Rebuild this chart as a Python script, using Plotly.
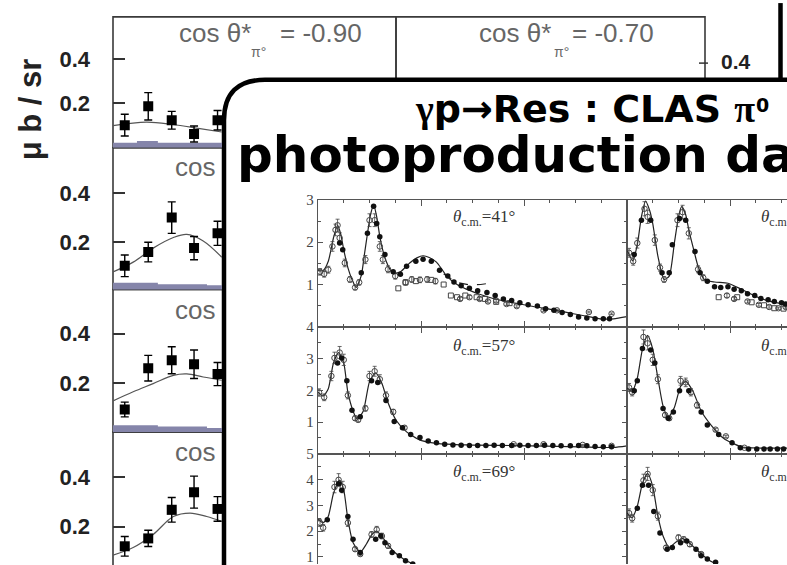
import plotly.graph_objects as go

W, H = 787, 565

# ---------------- left figure: dσ/dΩ (μb/sr) in four cos θ* rows ----------------
BG_X = [0.5, 1.5, 2.5, 3.45, 4.45]
BG_VALS = [
    [0.102, 0.187, 0.124, 0.062, 0.124],
    [0.104, 0.160, 0.300, 0.176, 0.236],
    [0.092, 0.260, 0.292, 0.276, 0.236],
    [0.120, 0.152, 0.268, 0.340, 0.272],
]
BG_ERRS = [
    [0.049, 0.062, 0.040, 0.036, 0.044],
    [0.044, 0.040, 0.064, 0.047, 0.049],
    [0.030, 0.052, 0.055, 0.058, 0.047],
    [0.040, 0.033, 0.050, 0.065, 0.050],
]
BG_FIT_X = [
    [0, 1.43, 2.55, 3.70, 4.63],
    [0, 0.86, 1.71, 2.57, 3.14, 3.84, 4.63],
    [0, 0.86, 1.71, 2.57, 3.14, 3.84, 4.63],
    [0, 0.86, 1.71, 2.57, 3.28, 3.99, 4.63],
]
BG_FIT_Y = [
    [0.100, 0.116, 0.105, 0.086, 0.071],
    [0.079, 0.119, 0.176, 0.219, 0.232, 0.205, 0.139],
    [0.127, 0.164, 0.197, 0.231, 0.237, 0.224, 0.211],
    [0.084, 0.115, 0.168, 0.241, 0.255, 0.241, 0.221],
]
# systematic-error band (step edges and heights)
BAND_EDGES = [[0, 1.02, 1.91, 4.7], [0, 1.91, 4.0, 4.7], [0, 1.91, 4.0, 4.7]]
BAND_H = [[0.022, 0.031, 0.022], [0.035, 0.029, 0.025], [0.028, 0.023, 0.017]]
BG_TICKS = [0.2, 0.4]
COS_LABELS = ["-0.90", "-0.70"]

# ---------------- inset: CLAS π0 photoproduction, three angles per column ----------------
P41 = dict(
    mx=[0.00, 0.05, 0.10, 0.15, 0.19, 0.22, 0.25, 0.29, 0.33, 0.37, 0.42, 0.45, 0.48, 0.51, 0.54, 0.57,
        0.60, 0.63, 0.66, 0.70, 0.73, 0.80, 0.89, 0.96, 1.02, 1.08, 1.15, 1.20, 1.25, 1.35, 1.44, 1.57,
        1.70, 1.83, 1.96, 2.09, 2.22, 2.35, 2.48, 2.61, 2.74, 2.87, 3.00],
    my=[1.33, 1.33, 1.55, 2.10, 2.40, 2.20, 1.82, 1.40, 1.12, 0.93, 1.21, 1.70, 2.20, 2.65, 2.89, 2.60,
        2.14, 1.80, 1.56, 1.35, 1.26, 1.30, 1.51, 1.63, 1.68, 1.64, 1.53, 1.37, 1.20, 1.00, 0.89, 0.77,
        0.67, 0.60, 0.54, 0.48, 0.43, 0.37, 0.31, 0.25, 0.19, 0.19, 0.24],
    fx=[0.21, 0.24, 0.42, 0.48, 0.54, 0.57, 0.60, 0.65, 0.73, 0.80, 0.86, 0.95, 1.02, 1.10, 1.18, 1.26,
        1.32, 1.39, 1.47, 1.55, 1.64, 1.72, 1.80, 1.88, 1.96, 2.04, 2.13, 2.21, 2.29, 2.37, 2.45, 2.53,
        2.61, 2.69, 2.77, 2.83],
    fy=[1.98, 1.82, 1.28, 2.21, 2.85, 2.44, 2.13, 1.71, 1.30, 1.24, 1.43, 1.55, 1.60, 1.55, 1.34, 1.20,
        1.06, 0.97, 0.91, 0.85, 0.81, 0.74, 0.66, 0.62, 0.57, 0.52, 0.49, 0.43, 0.39, 0.34, 0.29, 0.23,
        0.21, 0.19, 0.19, 0.19],
    ox=[0.02, 0.06, 0.10, 0.14, 0.17, 0.19, 0.21, 0.26, 0.31, 0.36, 0.40, 0.46, 0.50, 0.55, 0.60, 0.63,
        0.68, 0.75, 0.85, 0.91, 0.99, 1.06, 1.14, 1.38, 1.47, 1.57, 1.65, 1.73, 1.83, 1.93, 2.19, 2.32,
        2.63, 2.85],
    oy=[1.30, 1.25, 1.35, 1.90, 2.29, 2.40, 2.10, 1.51, 1.12, 0.93, 1.05, 1.59, 2.52, 2.52, 1.90, 1.59,
        1.36, 1.20, 1.05, 1.12, 1.11, 1.12, 1.08, 0.66, 0.70, 0.66, 0.60, 0.62, 0.54, 0.49, 0.39, 0.39,
        0.35, 0.31],
    sx=[0.78, 0.85, 0.95, 1.10, 1.22, 1.29, 1.35, 1.43, 1.54, 1.62, 1.73, 1.86],
    sy=[0.91, 1.05, 1.08, 1.11, 1.00, 0.74, 0.70, 0.74, 0.70, 0.66, 0.59, 0.56],
    dx=[1.22, 1.35, 1.47, 1.58, 1.70],
    dy=[1.25, 1.05, 0.99, 1.00, 1.04],
)
P45 = dict(
    mx=[0.00, 0.056, 0.10, 0.14, 0.18, 0.22, 0.25, 0.30, 0.36, 0.41, 0.46, 0.50, 0.53, 0.57, 0.60, 0.65,
        0.69, 0.75, 0.85, 0.98, 1.11, 1.27, 1.43, 1.56],
    my=[1.82, 1.56, 1.94, 2.60, 2.97, 2.75, 2.44, 1.67, 1.12, 1.20, 1.98, 2.60, 2.84, 2.65, 2.29, 1.80,
        1.43, 1.12, 1.06, 1.03, 0.89, 0.70, 0.58, 0.54],
    fx=[0.07, 0.14, 0.23, 0.34, 0.41, 0.44, 0.51, 0.57, 0.66, 0.71, 0.78, 0.85, 0.91, 0.98, 1.04, 1.11,
        1.17, 1.24, 1.30, 1.37, 1.43, 1.50, 1.54],
    fy=[1.71, 2.52, 2.52, 1.28, 1.28, 1.94, 2.56, 2.52, 1.78, 1.28, 1.08, 0.95, 0.93, 0.95, 0.89, 0.85,
        0.78, 0.74, 0.67, 0.64, 0.60, 0.57, 0.54],
    ox=[0.02, 0.06, 0.10, 0.17, 0.20, 0.27, 0.32, 0.36, 0.49, 0.54, 0.60, 0.69, 0.74, 0.97, 1.04, 1.17,
        1.28, 1.38, 1.47, 1.54],
    oy=[1.75, 1.55, 1.98, 2.79, 2.60, 2.05, 1.40, 1.12, 2.52, 2.71, 2.21, 1.36, 1.16, 0.74, 0.66, 0.60,
        0.52, 0.47, 0.44, 0.47],
    sx=[0.89, 1.07, 1.21, 1.33, 1.43, 1.52],
    sy=[0.70, 0.70, 0.58, 0.51, 0.44, 0.43],
)
P57 = dict(
    mx=[0.00, 0.05, 0.10, 0.15, 0.20, 0.25, 0.29, 0.34, 0.38, 0.44, 0.50, 0.56, 0.62, 0.68, 0.76, 0.86,
        0.99, 1.15, 1.44, 1.90, 2.54, 2.87, 3.00],
    my=[1.94, 1.82, 2.05, 2.86, 3.19, 2.86, 1.94, 1.35, 1.09, 1.35, 2.27, 2.55, 2.22, 1.61, 1.05, 0.69,
        0.43, 0.33, 0.28, 0.26, 0.22, 0.20, 0.25],
    fx=[0.19, 0.23, 0.28, 0.33, 0.41, 0.52, 0.58, 0.66, 0.74, 0.82, 0.90, 0.99, 1.07, 1.15, 1.23, 1.31,
        1.39, 1.47, 1.55, 1.63, 1.71, 1.79, 1.88, 1.96, 2.04, 2.12, 2.20, 2.28, 2.36, 2.45, 2.53, 2.61,
        2.69, 2.77, 2.85],
    fy=[2.86, 3.02, 2.30, 1.37, 1.17, 2.30, 2.25, 1.68, 1.02, 0.82, 0.61, 0.51, 0.40, 0.35, 0.30, 0.28,
        0.27, 0.26, 0.26, 0.26, 0.27, 0.26, 0.26, 0.27, 0.26, 0.26, 0.27, 0.26, 0.25, 0.25, 0.26, 0.25,
        0.23, 0.22, 0.22],
    ox=[0.01, 0.06, 0.13, 0.16, 0.21, 0.25, 0.29, 0.36, 0.39, 0.46, 0.50, 0.55, 0.60, 0.66, 0.73, 0.84,
        1.90, 2.19, 2.57, 2.85],
    oy=[1.93, 1.78, 2.45, 3.02, 3.19, 2.96, 1.84, 1.12, 1.07, 1.43, 2.45, 2.60, 2.35, 1.84, 1.32, 0.82,
        0.30, 0.30, 0.28, 0.25],
)
P61 = dict(
    mx=[0.00, 0.05, 0.10, 0.15, 0.20, 0.25, 0.30, 0.35, 0.40, 0.46, 0.52, 0.57, 0.64, 0.72, 0.82, 0.94,
        1.11, 1.30, 1.56],
    my=[2.07, 1.97, 2.38, 3.30, 3.73, 3.30, 2.38, 1.51, 1.15, 1.46, 2.12, 2.28, 1.97, 1.35, 0.89, 0.48,
        0.22, 0.18, 0.18],
    fx=[0.07, 0.10, 0.15, 0.23, 0.27, 0.35, 0.40, 0.45, 0.51, 0.60, 0.72, 0.78, 0.89, 1.02, 1.10, 1.18,
        1.26, 1.33, 1.39, 1.46, 1.52],
    fy=[1.99, 2.30, 3.32, 3.27, 2.86, 1.43, 1.12, 1.32, 1.99, 1.99, 1.32, 0.91, 0.61, 0.35, 0.19, 0.15,
        0.15, 0.15, 0.15, 0.15, 0.15],
    ox=[0.02, 0.05, 0.16, 0.20, 0.25, 0.30, 0.37, 0.41, 0.52, 0.57, 0.62, 0.68, 0.86, 0.96, 1.14],
    oy=[2.09, 1.94, 3.68, 3.48, 2.96, 2.35, 1.22, 1.12, 2.30, 2.25, 1.94, 1.53, 0.76, 0.55, 0.19],
)
P69 = dict(
    mx=[0.00, 0.05, 0.10, 0.15, 0.21, 0.25, 0.29, 0.34, 0.41, 0.47, 0.52, 0.57, 0.63, 0.73, 0.83, 0.92,
        1.00, 1.20],
    my=[2.46, 2.33, 2.58, 3.46, 3.98, 3.60, 2.46, 1.56, 1.18, 1.50, 1.85, 2.00, 1.74, 1.23, 0.92, 0.73,
        0.60, 0.40],
    fx=[0.09, 0.20, 0.23, 0.29, 0.34, 0.41, 0.56, 0.61, 0.65, 0.72, 0.79, 0.85, 0.92, 1.00],
    fy=[2.44, 3.84, 3.59, 2.57, 1.68, 1.17, 1.68, 1.81, 1.55, 1.17, 1.04, 0.85, 0.72, 0.62],
    ox=[0.02, 0.05, 0.16, 0.20, 0.24, 0.29, 0.36, 0.41, 0.52, 0.57, 0.62, 0.68],
    oy=[2.32, 2.13, 3.71, 3.99, 3.71, 2.32, 1.30, 1.11, 1.87, 2.06, 1.81, 1.43],
)
P73 = dict(
    mx=[0.00, 0.05, 0.10, 0.15, 0.20, 0.25, 0.30, 0.35, 0.41, 0.47, 0.54, 0.60, 0.69, 0.78, 0.86, 0.95],
    my=[2.71, 2.52, 2.97, 3.85, 4.24, 3.73, 2.58, 1.81, 1.37, 1.56, 1.71, 1.56, 1.23, 0.92, 0.73, 0.55],
    fx=[0.10, 0.15, 0.21, 0.26, 0.32, 0.39, 0.44, 0.52, 0.58, 0.67, 0.72, 0.78, 0.86],
    fy=[2.89, 3.78, 3.78, 2.76, 1.93, 1.30, 1.36, 1.55, 1.62, 1.30, 1.04, 0.92, 0.79],
    ox=[0.02, 0.05, 0.16, 0.20, 0.25, 0.30, 0.38, 0.50, 0.55, 0.61, 0.72],
    oy=[2.70, 2.50, 3.97, 4.22, 3.59, 2.58, 1.36, 1.75, 1.68, 1.49, 1.11],
)
INSET_PANELS = [P41, P45, P57, P61, P69, P73]
INSET_ANGLES = ["41°", "45°", "57°", "61°", "69°", "73°"]
INSET_YTICKS = [[1, 2, 3], [1, 2, 3, 4], [1, 2, 3, 4, 5]]


def fx(x):
    return x / W


def fy(y):
    return 1 - y / H


fig = go.Figure()
layout = dict(
    width=W, height=H, margin=dict(l=0, r=0, t=0, b=0), autosize=False,
    paper_bgcolor="white", plot_bgcolor="rgba(0,0,0,0)", showlegend=False,
)

# ---------- left figure axes and traces ----------
bg_rows = [(9, 142, [0, 0.591]), (142, 286, [0.008, 0.584]),
           (286, 431, [0, 0.58]), (431, 565, [0.048, 0.584])]
for i, (top, bot, yr) in enumerate(bg_rows):
    n = i + 1
    layout[f"xaxis{n}"] = dict(domain=[fx(113), fx(222)], range=[0, 4.64], visible=False,
                               anchor=f"y{n}")
    layout[f"yaxis{n}"] = dict(
        domain=[fy(bot), fy(top)], range=yr, anchor=f"x{n}",
        showline=False, showgrid=False, zeroline=False,
        tickmode="array", tickvals=BG_TICKS, ticktext=[f"<b>{v:.1f}</b>" for v in BG_TICKS],
        ticks="inside", ticklen=12, tickwidth=1.5, tickcolor="#333",
        tickfont=dict(family="Liberation Sans", size=22, color="#222"), ticklabelstandoff=22,
        ticklabeloverflow="allow",
    )
    ax = dict(xaxis=f"x{n}", yaxis=f"y{n}")
    if i < len(BAND_H):
        fig.add_trace(go.Scatter(x=BAND_EDGES[i], y=BAND_H[i] + [BAND_H[i][-1]], mode="lines",
                                 line=dict(shape="hv", width=0, color="#8585aa"),
                                 fill="tozeroy", fillcolor="#8585aa", **ax))
    fig.add_trace(go.Scatter(x=BG_FIT_X[i], y=BG_FIT_Y[i], mode="lines",
                             line=dict(color="#555", width=1.2, shape="spline"), **ax))
    fig.add_trace(go.Scatter(
        x=BG_X, y=BG_VALS[i], mode="markers",
        marker=dict(symbol="square", size=10, color="black"),
        error_y=dict(type="data", array=BG_ERRS[i], color="black", thickness=1.4, width=4),
        **ax))

# ---------- inset axes and traces ----------
cols = [(318, 627, [0, 3.0]), (627, 787, [0, 160 / 103])]
rows = [(195, 324, [0, 3]), (324, 453, [0, 4]), (453, 565, [0.725, 5])]
axc = "#555"
for r, (top, bot, yr) in enumerate(rows):
    for c, (left, right, xr) in enumerate(cols):
        k = r * 2 + c
        n = 5 + k
        layout[f"xaxis{n}"] = dict(
            domain=[fx(left), fx(right)], range=xr, anchor=f"y{n}",
            side="top" if r == 2 else "bottom", mirror=False if r == 2 else "ticks",
            showline=True, linecolor=axc, linewidth=1.3, showgrid=False, zeroline=False,
            ticks="inside", ticklen=6, tickcolor=axc, tick0=0, dtick=1, showticklabels=False,
            minor=dict(dtick=0.25, tick0=0, ticks="inside", ticklen=3, tickcolor=axc, showgrid=False),
        )
        ycfg = dict(domain=[fy(bot), fy(top)], range=yr, anchor=f"x{n}",
                    showline=True, linecolor=axc, linewidth=1.3, showgrid=False, zeroline=False)
        if c == 0:
            ycfg.update(mirror="ticks", ticks="inside", ticklen=5, tickcolor=axc,
                        tickmode="array", tickvals=INSET_YTICKS[r],
                        ticktext=[str(v) for v in INSET_YTICKS[r]], ticklabeloverflow="allow",
                        tickfont=dict(family="Liberation Serif", size=15, color="#444"),
                        minor=dict(tickvals=[v - 0.5 for v in INSET_YTICKS[r]], ticks="inside",
                                   ticklen=3, tickcolor=axc))
        else:
            ycfg.update(ticks="", showticklabels=False)
        layout[f"yaxis{n}"] = ycfg

        p = INSET_PANELS[k]
        ax = dict(xaxis=f"x{n}", yaxis=f"y{n}")
        fig.add_trace(go.Scatter(x=p["mx"], y=p["my"], mode="lines",
                                 line=dict(color="#222", width=1.2, shape="spline", smoothing=0.6), **ax))
        if "dx" in p:
            fig.add_trace(go.Scatter(x=p["dx"], y=p["dy"], mode="lines",
                                     line=dict(color="#222", width=1.1, dash="dash"), **ax))
        fig.add_trace(go.Scatter(
            x=p["ox"], y=p["oy"], mode="markers",
            marker=dict(symbol="circle-open", size=5.5, color="#444", line=dict(width=1)),
            error_y=dict(type="percent", value=6, color="#444", thickness=0.8, width=2), **ax))
        if "sx" in p:
            fig.add_trace(go.Scatter(x=p["sx"], y=p["sy"], mode="markers",
                                     marker=dict(symbol="square-open", size=5, color="#444",
                                                 line=dict(width=1)), **ax))
        fig.add_trace(go.Scatter(x=p["fx"], y=p["fy"], mode="markers",
                                 marker=dict(symbol="circle", size=5.5, color="#111"), **ax))

# ---------- frames, white slide box (drawn beneath the plotting layers) ----------
shapes = []
frame = dict(type="rect", xref="paper", yref="paper", layer="below",
             line=dict(color="#3a3a3a", width=1.6), fillcolor="rgba(0,0,0,0)")
for (x0, y0, x1, y1) in [(113, 9, 396, 142), (396, 9, 705, 142), (113, 142, 396, 286),
                         (113, 286, 396, 431), (113, 431, 396, 600)]:
    shapes.append(dict(frame, x0=fx(x0), y0=fy(y1), x1=fx(x1), y1=fy(y0)))
box_path = (f"M {fx(224)},{fy(620)} L {fx(224)},{fy(114)} "
            f"Q {fx(224)},{fy(73)} {fx(265)},{fy(73)} "
            f"L {fx(820)},{fy(73)} L {fx(820)},{fy(620)} Z")
shapes.append(dict(type="path", path=box_path, xref="paper", yref="paper", layer="below",
                   line=dict(color="black", width=4.5), fillcolor="white"))
shapes.append(dict(type="line", xref="paper", yref="paper", layer="below",
                   x0=fx(780.5), x1=fx(780.5), y0=fy(-5), y1=fy(73),
                   line=dict(color="black", width=4.5)))
shapes.append(dict(type="line", xref="paper", yref="paper", layer="below",
                   x0=fx(699), x1=fx(708), y0=fy(56), y1=fy(56),
                   line=dict(color="#333", width=1.5)))
layout["shapes"] = shapes

# ---------- text ----------
ann = []


def text(x, y, s, size, color="#222", family="Liberation Sans", xanchor="left",
         yanchor="middle", angle=0, weight=None):
    font = dict(family=family, size=size, color=color)
    if weight:
        font["weight"] = weight
    ann.append(dict(x=fx(x), y=fy(y), xref="paper", yref="paper", text=s, showarrow=False,
                    xanchor=xanchor, yanchor=yanchor, textangle=angle, font=font))


text(30, 103, "<b>μ b / sr</b>", 31, xanchor="center", angle=-90)
text(753, 54, "<b>0.4</b>", 21, xanchor="right")

# cos θ* labels of the left figure
for (x0, xs, xe), lab in zip([(177, 249, 278), (477, 552, 570)], COS_LABELS):
    text(x0, 25, "cos θ*", 26, color="#666")
    text(xs, 45, "π°", 14, color="#666")
    text(xe, 25, f"= {lab}", 26, color="#666")
for y in (162, 307, 451):
    text(173, y, "cos", 26, color="#666")

# slide title
serif = "<span style='font-family:Liberation Serif'>{}</span>"
text(413, 103, serif.format("γ") + "p→Res : CLAS " + serif.format("π"),
     38, color="black", family="DejaVu Sans", weight="bold")
text(754, 99, "0", 19, color="black", family="DejaVu Sans", weight="bold")
text(235, 149, "photoproduction data", 50, color="black", family="DejaVu Sans", weight="bold")

# angle labels of the inset
for k, ang in enumerate(INSET_ANGLES):
    r, c = divmod(k, 2)
    x0 = 451 if c == 0 else 759
    y0 = [213, 344, 473][r]
    text(x0, y0, f"<i>θ</i><sub>c.m.</sub>={ang}", 17, color="#333", family="Liberation Serif")

layout["annotations"] = ann
fig.update_layout(**layout)
fig.write_html("out.html")
